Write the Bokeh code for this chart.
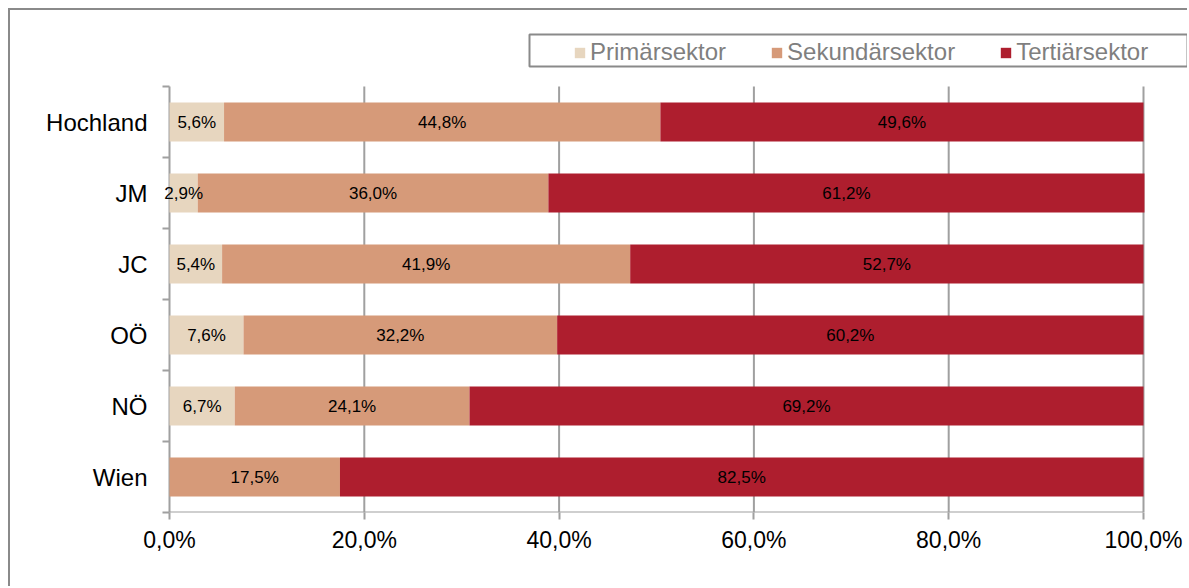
import numpy as np
from bokeh.plotting import figure
from bokeh.models import (ColumnDataSource, Range1d, FixedTicker, Legend,
                          LegendItem, BoxAnnotation)
from bokeh.embed import file_html
from bokeh.resources import INLINE
from bokeh.core.properties import value

# ---------------- data ----------------
regions = ["Hochland", "JM", "JC", "OÖ", "NÖ", "Wien"]
sectors = ["Primärsektor", "Sekundärsektor", "Tertiärsektor"]
primaer = [5.6, 2.9, 5.4, 7.6, 6.7, 0.0]
sekundaer = [44.8, 36.0, 41.9, 32.2, 24.1, 17.5]
tertiaer = [49.6, 61.2, 52.7, 60.2, 69.2, 82.5]
x_ticks = [0, 20, 40, 60, 80, 100]
x_tick_labels = ["0,0%", "20,0%", "40,0%", "60,0%", "80,0%", "100,0%"]

colors = ["#E7D6BF", "#D69A79", "#AE1E2E"]
GRID = "#a0a0a0"
FONT = "Liberation Sans"

n = len(regions)
ypos = [n - i - 0.5 for i in range(n)]          # Hochland on top
values = [primaer, sekundaer, tertiaer]

data = dict(y=ypos, region=regions)
for s, v in zip(sectors, values):
    data[s] = v
source = ColumnDataSource(data)

# label positions (segment centres)
arr = np.array(values)
lefts = np.vstack([np.zeros(n), np.cumsum(arr, axis=0)[:-1]])
lx, ly, lt = [], [], []
for k in range(len(sectors)):
    for i in range(n):
        v = arr[k, i]
        if v <= 0:
            continue
        lx.append(lefts[k, i] + v / 2.0)
        ly.append(ypos[i])
        lt.append(f"{v:.1f}%".replace(".", ","))
label_src = ColumnDataSource(dict(x=lx, y=ly, text=lt))

# ---------------- layout ----------------
TICK = 7                            # category tick length (px)
FRAME_LEFT = 152                    # frame starts TICK px left of the 0 % line
PX_100 = 974                        # pixels for 0..100 %
FRAME_W = 1179 - FRAME_LEFT         # frame runs to the right edge (room for legend)
x_start = -TICK * x_ticks[-1] / PX_100
x_end = (FRAME_W - TICK) * x_ticks[-1] / PX_100

# one empty band above the categories holds the legend
p = figure(width=1179, height=578,
           x_range=Range1d(x_start, x_end), y_range=Range1d(0, n + 1),
           output_backend="svg", toolbar_location=None,
           min_border_left=FRAME_LEFT, min_border_right=0,
           min_border_top=5, min_border_bottom=76,
           styles={"margin-left": "8px", "margin-top": "8px",
                   "border-left": "2px solid #8a8a8a",
                   "border-top": "2px solid #8a8a8a"})
p.outline_line_color = None
p.background_fill_color = "white"
p.border_fill_color = "white"

# vertical grid lines + y axis line, limited to the category band
p.segment(x0=x_ticks, y0=[0] * len(x_ticks), x1=x_ticks, y1=[n] * len(x_ticks),
          line_color=GRID, line_width=2)
# x axis line, limited to 0..100 %
p.segment(x0=[x_ticks[0]], y0=[0], x1=[x_ticks[-1]], y1=[0],
          line_color=GRID, line_width=2)

renderers = p.hbar_stack(sectors, y="y", height=0.55, color=colors,
                         line_color=None, source=source)

p.text(x="x", y="y", text="text", source=label_src,
       text_align="center", text_baseline="middle",
       text_font=value(FONT), text_font_size="17px", text_color="black")

# x axis
p.xaxis.ticker = FixedTicker(ticks=x_ticks)
p.xaxis.major_label_overrides = {t: l for t, l in zip(x_ticks, x_tick_labels)}
p.xaxis.major_label_text_font = FONT
p.xaxis.major_label_text_font_size = "23px"
p.xaxis.major_label_text_color = "black"
p.xaxis.major_label_standoff = 7
p.xaxis.major_tick_out = 7
p.xaxis.major_tick_in = 0
p.xaxis.major_tick_line_color = GRID
p.xaxis.major_tick_line_width = 2
p.xaxis.minor_tick_line_color = None
p.xaxis.axis_line_color = None

# y axis (labels at band centres, ticks at band borders, pointing to 0 % line)
p.yaxis.ticker = FixedTicker(ticks=ypos, minor_ticks=list(range(n + 1)))
p.yaxis.major_label_overrides = {t: r for t, r in zip(ypos, regions)}
p.yaxis.major_label_text_font = FONT
p.yaxis.major_label_text_font_size = "24px"
p.yaxis.major_label_text_color = "black"
p.yaxis.major_label_standoff = 15
p.yaxis.major_tick_out = 0
p.yaxis.major_tick_in = 0
p.yaxis.major_tick_line_color = None
p.yaxis.minor_tick_out = 0
p.yaxis.minor_tick_in = TICK
p.yaxis.minor_tick_line_color = GRID
p.yaxis.minor_tick_line_width = 2
p.yaxis.axis_line_color = None

p.xgrid.grid_line_color = None
p.ygrid.grid_line_color = None

# legend frame (positions relative to the frame's bottom-left corner)
box = BoxAnnotation(left=367, right=1025, bottom=446, top=478,
                    left_units="screen", right_units="screen",
                    top_units="screen", bottom_units="screen",
                    fill_color="white", fill_alpha=1.0,
                    line_color="#8a8a8a", line_width=2, line_alpha=1.0)
p.add_layout(box)

legend = Legend(items=[LegendItem(label=s, renderers=[r])
                       for s, r in zip(sectors, renderers)],
                orientation="horizontal", location=(411, 446),
                padding=2, spacing=44, margin=0,
                glyph_width=13, glyph_height=13, label_standoff=4,
                label_text_font=FONT, label_text_font_size="24px",
                label_text_color="#7f7f7f",
                border_line_color=None, background_fill_alpha=0.0)
p.add_layout(legend, "center")

open("out.html", "w").write(file_html(p, INLINE))
